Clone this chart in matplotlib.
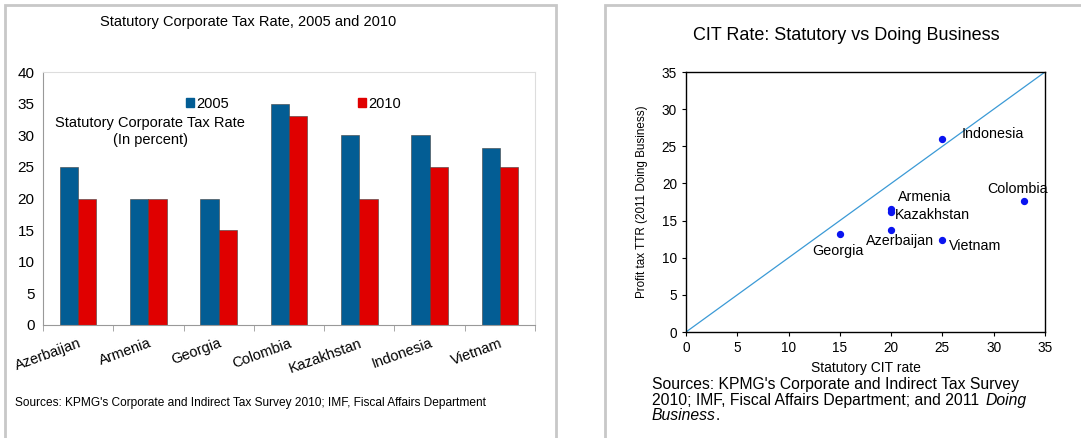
import numpy as np
import matplotlib.pyplot as plt
from matplotlib.patches import Rectangle, Patch

plt.rcParams['font.family'] = ['Liberation Sans', 'DejaVu Sans']

# left panel data
countries = ["Azerbaijan", "Armenia", "Georgia", "Colombia", "Kazakhstan", "Indonesia", "Vietnam"]
rate_2005 = [25, 20, 20, 35, 30, 30, 28]
rate_2010 = [20, 20, 15, 33, 20, 25, 25]

# right panel data
sc_names = ["Georgia", "Azerbaijan", "Armenia", "Kazakhstan", "Indonesia", "Vietnam", "Colombia"]
statutory = [15, 20, 20, 20, 25, 25, 33]
profit_ttr = [13.2, 13.7, 16.5, 16.1, 26.0, 12.4, 17.6]
label_pos = {"Georgia": (12.3, 10.9), "Azerbaijan": (17.5, 12.25), "Armenia": (20.7, 18.2),
             "Kazakhstan": (20.4, 15.8), "Indonesia": (26.9, 26.6), "Vietnam": (25.6, 11.6),
             "Colombia": (29.4, 19.2)}

W, H = 1081, 438
fig = plt.figure(figsize=(W / 100, H / 100), dpi=100)

def fx(px):
    return px / W

def fy(py):
    return 1 - py / H

# panel frames
fig.patches.append(Rectangle((fx(5), fy(445)), fx(551), fy(5) - fy(445), transform=fig.transFigure,
                             fill=False, edgecolor="#c8c8c8", lw=2))
fig.patches.append(Rectangle((fx(605), fy(445)), fx(490), fy(5) - fy(445), transform=fig.transFigure,
                             fill=False, edgecolor="#c8c8c8", lw=2))

# ---- left: bar chart
ax1 = fig.add_axes([fx(43), fy(325), fx(535) - fx(43), fy(72) - fy(325)])
x = np.arange(len(countries))
w = 0.26
ax1.bar(x - w / 2, rate_2005, w, color="#035d94", edgecolor="#404040", lw=0.4, label="2005")
ax1.bar(x + w / 2, rate_2010, w, color="#e00000", edgecolor="#404040", lw=0.4, label="2010")
ax1.set_xlim(-0.5, len(countries) - 0.5)
ax1.set_ylim(0, 40)
ax1.set_yticks(range(0, 41, 5))
ax1.set_xticks(x)
ax1.set_xticklabels(countries, rotation=20, ha="right", rotation_mode="anchor", fontsize=10.5)
ax1.tick_params(axis="x", which="major", length=0, pad=8)
ax1.set_xticks(np.arange(-0.5, len(countries), 1), minor=True)
ax1.tick_params(axis="x", which="minor", length=4, color="#999999")
ax1.tick_params(axis="y", length=0, labelsize=11, pad=6)
for s in ["top", "right"]:
    ax1.spines[s].set_color("#dddddd")
for s in ["left", "bottom"]:
    ax1.spines[s].set_color("#999999")
ax1.text(0.2175, 0.765, "Statutory Corporate Tax Rate\n(In percent)", transform=ax1.transAxes,
         ha="center", va="center", fontsize=10.5, linespacing=1.35)
ax1.legend(handles=[Patch(color="#035d94"), Patch(color="#e00000")], labels=["2005", "2010"],
           ncol=2, loc="upper left", bbox_to_anchor=(0.275, 0.93), frameon=False, fontsize=10.5,
           handlelength=0.6, handleheight=0.6, handletextpad=0.15, columnspacing=8.8, borderpad=0)
fig.text(fx(248), fy(22), "Statutory Corporate Tax Rate, 2005 and 2010", ha="center", va="center",
         fontsize=10.5)
fig.text(fx(15), fy(403), "Sources: KPMG's Corporate and Indirect Tax Survey 2010; IMF, Fiscal Affairs Department",
         ha="left", va="center", fontsize=8.6)

# ---- right: scatter
ax2 = fig.add_axes([fx(686), fy(332), fx(1045) - fx(686), fy(72) - fy(332)])
ax2.plot([0, 35], [0, 35], color="#3b9ad6", lw=0.9)
ax2.scatter(statutory, profit_ttr, s=18, color="#0a14f0", zorder=3)
for n in sc_names:
    ax2.text(label_pos[n][0], label_pos[n][1], n, fontsize=10.3, ha="left", va="center")
ax2.set_xlim(0, 35)
ax2.set_ylim(0, 35)
ax2.set_xticks(range(0, 36, 5))
ax2.set_yticks(range(0, 36, 5))
ax2.tick_params(length=3, labelsize=9.8)
for s in ax2.spines.values():
    s.set_linewidth(1.0)
ax2.set_xlabel("Statutory CIT rate", fontsize=10, labelpad=4)
ax2.set_ylabel("Profit tax TTR (2011 Doing Business)", fontsize=8.4, labelpad=10)
fig.text(fx(846), fy(35), "CIT Rate: Statutory vs Doing Business", ha="center", va="center",
         fontsize=13)

src_kw = dict(fontsize=11.3, ha="left", va="center")
fig.text(fx(652), fy(384), "Sources: KPMG's Corporate and Indirect Tax Survey", **src_kw)
t2 = fig.text(fx(652), fy(400), "2010; IMF, Fiscal Affairs Department; and 2011 ", **src_kw)
t3 = fig.text(fx(652), fy(416), "Business", style="italic", **src_kw)
fig.canvas.draw()
r = fig.canvas.get_renderer()
b2 = t2.get_window_extent(r)
b3 = t3.get_window_extent(r)
fig.text(b2.x1 / W + 0.002, fy(400), "Doing", style="italic", **src_kw)
fig.text(b3.x1 / W, fy(416), ".", **src_kw)

fig.savefig("out.png", dpi=100)
